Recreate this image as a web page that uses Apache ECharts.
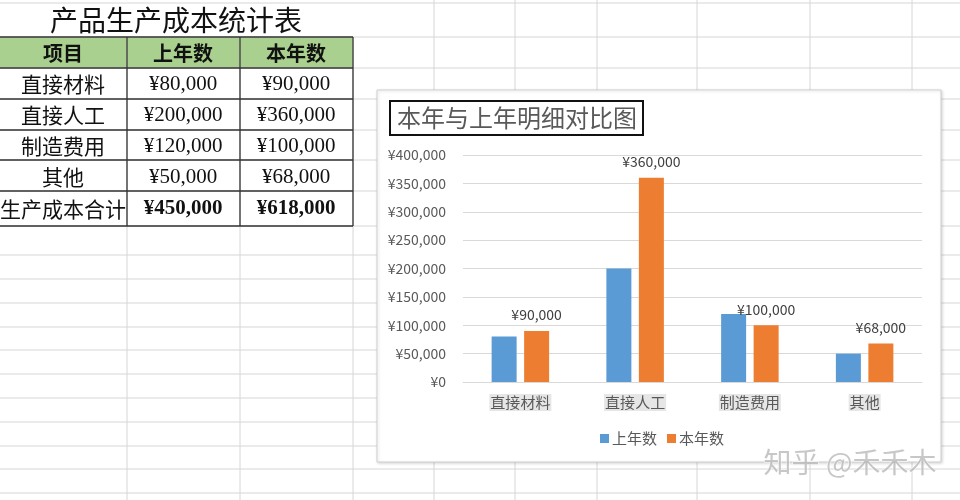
<!DOCTYPE html>
<html><head><meta charset="utf-8">
<script src="https://cdn.jsdelivr.net/npm/echarts@6/dist/echarts.min.js"></script>
<style>html,body{margin:0;padding:0;background:#fff}#c{width:960px;height:500px}</style>
</head><body><div id="c"></div>
<script>
// ---- data ----
const tableTitle = '产品生产成本统计表';
const headers = ['项目', '上年数', '本年数'];
const categories = ['直接材料', '直接人工', '制造费用', '其他'];
const lastYear = [80000, 200000, 120000, 50000];
const thisYear = [90000, 360000, 100000, 68000];
const totalLabel = '生产成本合计';
const seriesNames = ['上年数', '本年数'];
const chartTitle = '本年与上年明细对比图';
const watermark = '知乎 @禾禾木';

const fmt = v => '¥' + v.toLocaleString('en-US');
const sum = a => a.reduce((s, v) => s + v, 0);

// ---- spreadsheet layout ----
const colX = [127, 240, 353, 434, 515, 597, 697, 810, 912];
const rowY = [3, 37, 68, 99, 130, 160, 191, 226, 255, 279, 303, 327, 350, 374, 398, 422, 446, 469, 493];
const gfx = [];
const light = '#d6d6d6', dark = '#333';
gfx.push({type:'rect', z:-20, shape:{x:0, y:37, width:353, height:31}, style:{fill:'#A9D08E'}});
rowY.forEach(y => gfx.push({type:'line', z:-19, shape:{x1:0, y1:y, x2:960, y2:y}, style:{stroke:light, lineWidth:1}}));
colX.forEach(x => {
  const y1 = x <= 353 ? 37 : 0;
  gfx.push({type:'line', z:-19, shape:{x1:x, y1:y1, x2:x, y2:500}, style:{stroke:light, lineWidth:1}});
});
[37, 68, 99, 130, 160, 191, 226].forEach(y => gfx.push({type:'line', z:-18, shape:{x1:0, y1:y, x2:353, y2:y}, style:{stroke:dark, lineWidth:1.3}}));
[127, 240, 353].forEach(x => gfx.push({type:'line', z:-18, shape:{x1:x, y1:37, x2:x, y2:226}, style:{stroke:dark, lineWidth:1.3}}));
const cjk = '"Noto Sans CJK SC", sans-serif';
const numFont = '"Liberation Serif", "Noto Sans CJK SC", serif';
const colC = [63, 183, 296];
function cell(text, x, y, size, bold, font) {
  gfx.push({type:'text', z:-17, style:{text:text, x:x, y:y, textAlign:'center', textVerticalAlign:'middle',
    font:(bold ? 'bold ' : '') + size + 'px ' + font, fill:'#111'}});
}
cell(tableTitle, 176, 20, 28, false, cjk);
headers.forEach((h, i) => cell(h, colC[i], 53, 20, true, cjk));
const rowsC = [84, 115, 146, 177];
categories.forEach((c, i) => {
  cell(c, colC[0], rowsC[i], 21, false, cjk);
  cell(fmt(lastYear[i]), colC[1], rowsC[i], 21, false, numFont);
  cell(fmt(thisYear[i]), colC[2], rowsC[i], 21, false, numFont);
});
cell(totalLabel, colC[0], 209, 21, false, cjk);
cell(fmt(sum(lastYear)), colC[1], 209, 21, true, numFont);
cell(fmt(sum(thisYear)), colC[2], 209, 21, true, numFont);
gfx.push({type:'rect', z:-10, shape:{x:377, y:90, width:564, height:372},
  style:{fill:'#fff', stroke:'#d0d0d0', lineWidth:1, shadowBlur:3, shadowColor:'rgba(0,0,0,0.15)', shadowOffsetX:1, shadowOffsetY:1}});
gfx.push({type:'rect', z:-9, shape:{x:390, y:101, width:253, height:34}, style:{fill:'#fff', stroke:'#111', lineWidth:2}});
gfx.push({type:'text', z:-8, style:{text:chartTitle, x:517, y:118, textAlign:'center', textVerticalAlign:'middle',
  font:'24px ' + cjk, fill:'#595959'}});
gfx.push({type:'text', z:200, style:{text:watermark, x:850, y:462, textAlign:'center', textVerticalAlign:'middle',
  font:'28px ' + cjk, fill:'rgba(175,175,175,0.7)', stroke:'rgba(255,255,255,0.8)', lineWidth:1}});

const chart = echarts.init(document.getElementById('c'));
chart.setOption({
  animation: false,
  backgroundColor: '#fff',
  graphic: {elements: gfx},
  grid: {left: 463, right: 38, top: 155, bottom: 118},
  legend: {
    data: seriesNames, top: 426, left: 595, icon: 'rect', itemWidth: 9, itemHeight: 9, itemGap: 10,
    textStyle: {fontSize: 15, color: '#595959', fontFamily: cjk, padding: [0, 0, 0, -2]}
  },
  xAxis: {
    type: 'category', data: categories,
    axisLine: {lineStyle: {color: '#d9d9d9'}}, axisTick: {show: false},
    axisLabel: {fontSize: 15, color: '#595959', fontFamily: cjk, margin: 12, backgroundColor: '#e6e6e6', padding: [1, 1]}
  },
  yAxis: {
    type: 'value', min: 0, max: 400000, interval: 50000,
    axisLine: {show: false}, axisTick: {show: false},
    splitLine: {lineStyle: {color: '#d9d9d9'}},
    axisLabel: {formatter: v => fmt(v), fontSize: 14, color: '#595959', fontFamily: cjk, margin: 17}
  },
  series: [
    {name: seriesNames[0], type: 'bar', data: lastYear, barWidth: 25, barGap: '30%', itemStyle: {color: '#5B9BD5'}},
    {name: seriesNames[1], type: 'bar', data: thisYear, barWidth: 25, itemStyle: {color: '#ED7D31'},
      label: {show: true, position: 'top', distance: 9, formatter: p => fmt(p.value), fontSize: 14, color: '#404040', fontFamily: cjk}}
  ]
});
</script></body></html>
